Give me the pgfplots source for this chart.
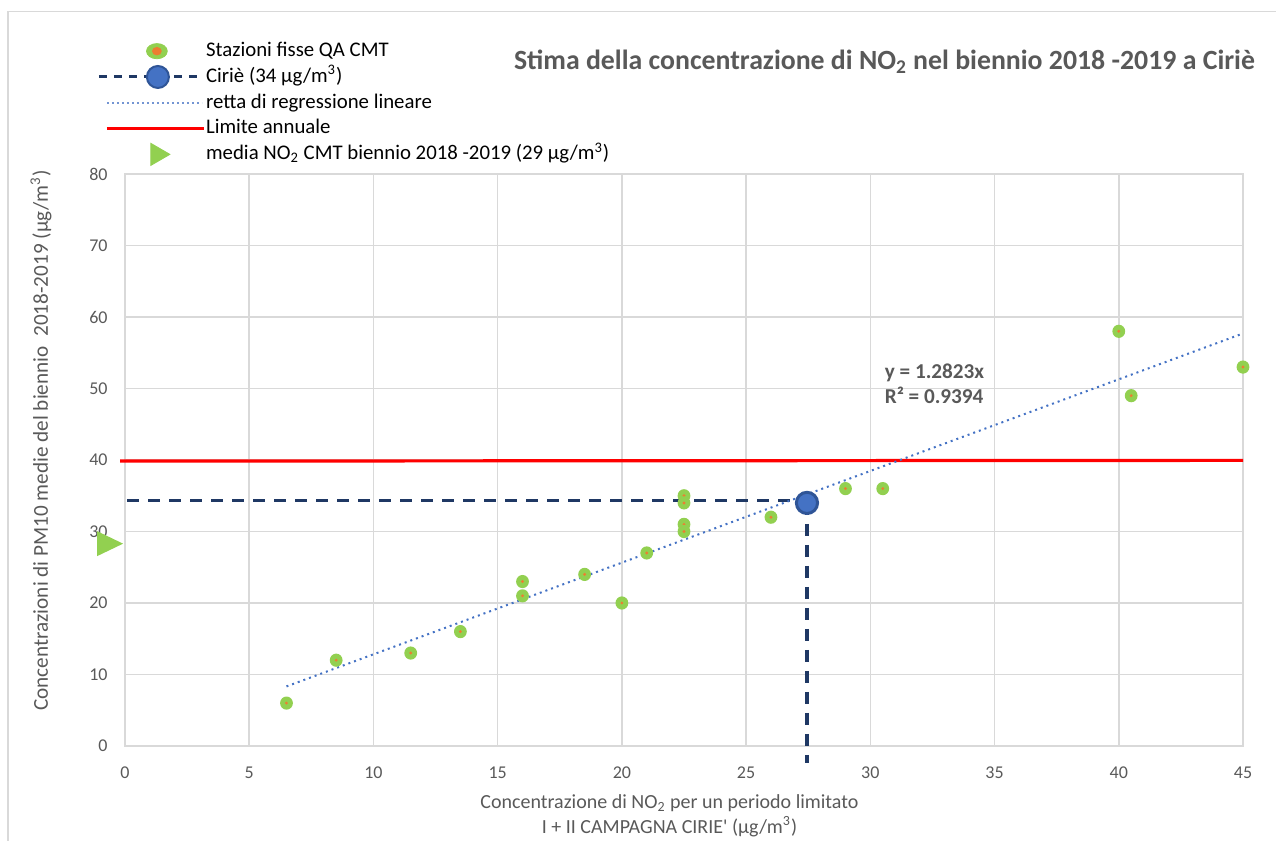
\documentclass[border=0pt]{standalone}
\usepackage{fontspec}
\setmainfont{Carlito}[Ligatures=TeXOff]
\usepackage{pgfplots}
\pgfplotsset{compat=1.18}

\definecolor{ptgreen}{HTML}{92D050}
\definecolor{ptorange}{HTML}{ED7D31}
\definecolor{ciriefill}{HTML}{4472C4}
\definecolor{cirieedge}{HTML}{2F5597}
\definecolor{navy}{HTML}{1F3864}
\definecolor{txtgray}{HTML}{595959}
\definecolor{gridgray}{HTML}{D9D9D9}

% green station dot with small orange centre
\pgfdeclareplotmark{station}{%
  \pgfsetfillcolor{ptgreen}%
  \pgfpathellipse{\pgfpointorigin}{\pgfqpoint{3.2bp}{0bp}}{\pgfqpoint{0bp}{3.3bp}}%
  \pgfusepathqfill
  \pgfsetfillcolor{ptorange}%
  \pgfpathcircle{\pgfpointorigin}{0.8bp}%
  \pgfusepathqfill}
% triangle pointing right
\pgfdeclareplotmark{rtri}{%
  \pgfpathmoveto{\pgfqpoint{-6.5bp}{6.25bp}}%
  \pgfpathlineto{\pgfqpoint{6.5bp}{0bp}}%
  \pgfpathlineto{\pgfqpoint{-6.5bp}{-6.25bp}}%
  \pgfpathclose
  \pgfusepathqfill}

\begin{document}
\begin{tikzpicture}
\useasboundingbox (-62.5bp,-47.5bp) rectangle (575.5bp,373bp);
\draw[gridgray, line width=0.75bp] (-58.5bp,-60bp) -- (-58.5bp,367.2bp) -- (600bp,367.2bp);
\begin{axis}[
  scale only axis, width=559bp, height=286bp,
  xmin=0, xmax=45, ymin=0, ymax=80,
  xtick={0,5,...,45}, ytick={0,10,...,80},
  grid=major, major grid style={gridgray, line width=0.75bp},
  axis line style={gridgray, line width=0.75bp},
  tick style={draw=none},
  clip=false,
  /pgf/number format/assume math mode=true,
  ticklabel style={font=\fontsize{9bp}{11bp}\selectfont, text=txtgray, inner sep=0pt},
  xticklabel style={anchor=center, yshift=-13.25bp},
  yticklabel style={anchor=east, xshift=-8.5bp},
  label style={font=\fontsize{10bp}{12.5bp}\selectfont, text=txtgray},
  xlabel={Concentrazione di NO\textsubscript{2} per un periodo limitato\\I + II CAMPAGNA CIRIE' (µg/m\textsuperscript{3})},
  xlabel style={align=center, at={(axis description cs:0.487,0)}, anchor=center, yshift=-34.75bp},
  ylabel={Concentrazioni di PM10 medie del biennio~ 2018-2019 (µg/m\textsuperscript{3})},
  ylabel style={at={(axis description cs:0,0.534)}, anchor=center, yshift=42bp,
    font=\fontsize{10.6bp}{12.5bp}\selectfont},
  legend style={draw=none, fill=none, at={(axis description cs:0,1)}, anchor=north west,
    xshift=-14bp, yshift=68bp, font=\fontsize{10.4bp}{12bp}\selectfont,
    row sep=0.15bp, column sep=0.5bp, inner sep=0pt,
    nodes={inner sep=0pt, text height=9bp, text depth=3.75bp}},
  legend cell align=left,
]
% legend entries
\addlegendimage{legend image code/.code={
  \path[draw=none, fill=none] (0bp,-6bp) rectangle (51.5bp,6bp);
  \fill[ptgreen] (29bp,0bp) ellipse [x radius=5.2bp, y radius=3.8bp];
  \fill[ptorange] (29bp,0bp) ellipse [x radius=2.2bp, y radius=1.9bp];}}
\addlegendentry{Stazioni fisse QA CMT}
\addlegendimage{legend image code/.code={
  \path[draw=none, fill=none] (0bp,-6bp) rectangle (51.5bp,6bp);
  \draw[navy, line width=1.5bp, dash pattern=on 4bp off 3.5bp] (0bp,0bp) -- (51bp,0bp);
  \filldraw[fill=ciriefill, draw=cirieedge, line width=1bp] (29.5bp,0bp) circle [radius=5.5bp];}}
\addlegendentry{Ciriè (34 µg/m\textsuperscript{3})}
\addlegendimage{legend image code/.code={
  \path[draw=none, fill=none] (0bp,-6bp) rectangle (51.5bp,6bp);
  \draw[ciriefill!75, line width=1bp, dash pattern=on 1bp off 1.5bp] (4bp,0bp) -- (51.5bp,0bp);}}
\addlegendentry{retta di regressione lineare}
\addlegendimage{legend image code/.code={
  \path[draw=none, fill=none] (0bp,-6bp) rectangle (51.5bp,6bp);
  \draw[red, line width=1.2bp] (4bp,0bp) -- (52.5bp,0bp);}}
\addlegendentry{Limite annuale}
\addlegendimage{legend image code/.code={
  \path[draw=none, fill=none] (0bp,-6bp) rectangle (51.5bp,6bp);
  \fill[ptgreen] (26bp,5.5bp) -- (35.5bp,0bp) -- (26bp,-5.5bp) -- cycle;}}
\addlegendentry{media NO\textsubscript{2} CMT biennio 2018 -2019 (29 µg/m\textsuperscript{3})}

% annual limit
\addplot[red, line width=1.6bp, forget plot] coordinates {(-0.2,39.85) (45,39.95)};
% Ciriè reference lines
\addplot[navy, line width=1.6bp, dash pattern=on 6bp off 4.5bp, forget plot]
  coordinates {(0.1,34.3) (27.2,34.3)};
\addplot[navy, line width=1.6bp, dash pattern=on 6bp off 4.5bp, forget plot]
  coordinates {(27.45,34) (27.45,-2.4)};
% linear regression y = 1.2823x
\addplot[ciriefill, line width=1bp, dash pattern=on 1bp off 2bp, forget plot]
  coordinates {(6.5,8.335) (45,57.70)};
% stations
\addplot[only marks, mark=station, forget plot] coordinates {
  (6.5,6) (8.5,12) (11.5,13) (13.5,16) (16,23) (16,21) (18.5,24) (20,20)
  (21,27) (22.5,35) (22.5,34) (22.5,31) (22.5,30) (26,32) (29,36) (30.5,36)
  (40,58) (40.5,49) (45,53)};
% Ciriè
\addplot[only marks, mark=*, mark size=5.3bp, mark options={fill=ciriefill, draw=cirieedge, line width=1.5bp}, forget plot]
  coordinates {(27.45,34)};
% CMT mean
\addplot[only marks, mark=rtri, color=ptgreen, forget plot] coordinates {(-0.6,28.3)};

\node[anchor=west, align=left, font=\bfseries\fontsize{10.6bp}{12.5bp}\selectfont, text=txtgray]
  at (axis cs:30.3,50.6) {y = 1.2823x\\R² = 0.9394};
\node[anchor=east, font=\bfseries\fontsize{13.9bp}{16bp}\selectfont, text=txtgray]
  at (rel axis cs:1,1) [xshift=9.5bp, yshift=56bp]
  {Stima della concentrazione di NO\textsubscript{2} nel biennio 2018 -2019 a Ciriè};
\end{axis}
\end{tikzpicture}
\end{document}
